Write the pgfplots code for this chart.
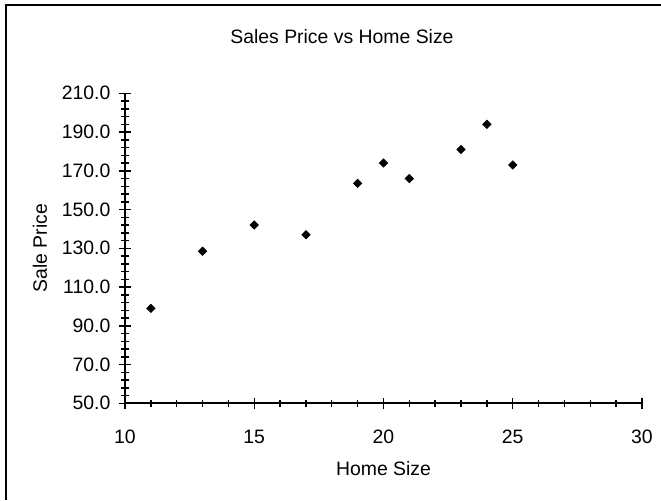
\documentclass[border=0pt]{standalone}
\usepackage{fontspec}
\setmainfont{Liberation Sans}
\usepackage{pgfplots}
\pgfplotsset{compat=1.18}
\pgfplotstableread{
x y
11 99
13 128.5
15 142
17 137
19 163.5
20 174
21 166
23 181
24 194
25 173
}\datatable
\begin{document}
\fontsize{9.7pt}{11.6pt}\selectfont
\begin{tikzpicture}
\useasboundingbox (0,0) rectangle (330.5pt,250pt);
\draw[line width=1.3pt] (3pt,0pt) -- (3pt,247.5pt) -- (331pt,247.5pt);
\begin{axis}[
  at={(62.5pt,48.35pt)}, anchor=south west,
  scale only axis, width=258.5pt, height=155pt,
  xmin=10, xmax=30, ymin=50, ymax=210,
  enlargelimits=false,
  axis x line*=bottom, axis y line*=left,
  axis line style={-, line width=0.9pt, black},
  xtick={10,15,20,25,30}, ytick={50,70,...,210},
  minor x tick num=4, minor y tick num=4,
  tick align=center,
  major tick length=5.8pt, minor tick length=3.8pt,
  every tick/.style={black, line width=0.7pt},
  /pgf/number format/assume math mode=true,
  yticklabel style={xshift=-1pt, /pgf/number format/.cd, fixed, zerofill, precision=1},
  xticklabel style={yshift=-7pt},
  scaled y ticks=false,
  title={Sales Price vs Home Size},
  every axis title shift=0pt,
  title style={at={(axis description cs:0.4197,1.1816)}, anchor=center},
  xlabel={Home Size},
  xlabel style={at={(axis description cs:0.5,-0.21)}, anchor=center},
  ylabel={Sale Price},
  ylabel style={at={(axis description cs:-0.1644,0.5)}, anchor=center, rotate=0},
]
\addplot[only marks, mark=square*, mark size=1.45pt, mark options={rotate=45, fill=black, draw=black}] table[x=x,y=y] {\datatable};
\end{axis}
\end{tikzpicture}
\end{document}
